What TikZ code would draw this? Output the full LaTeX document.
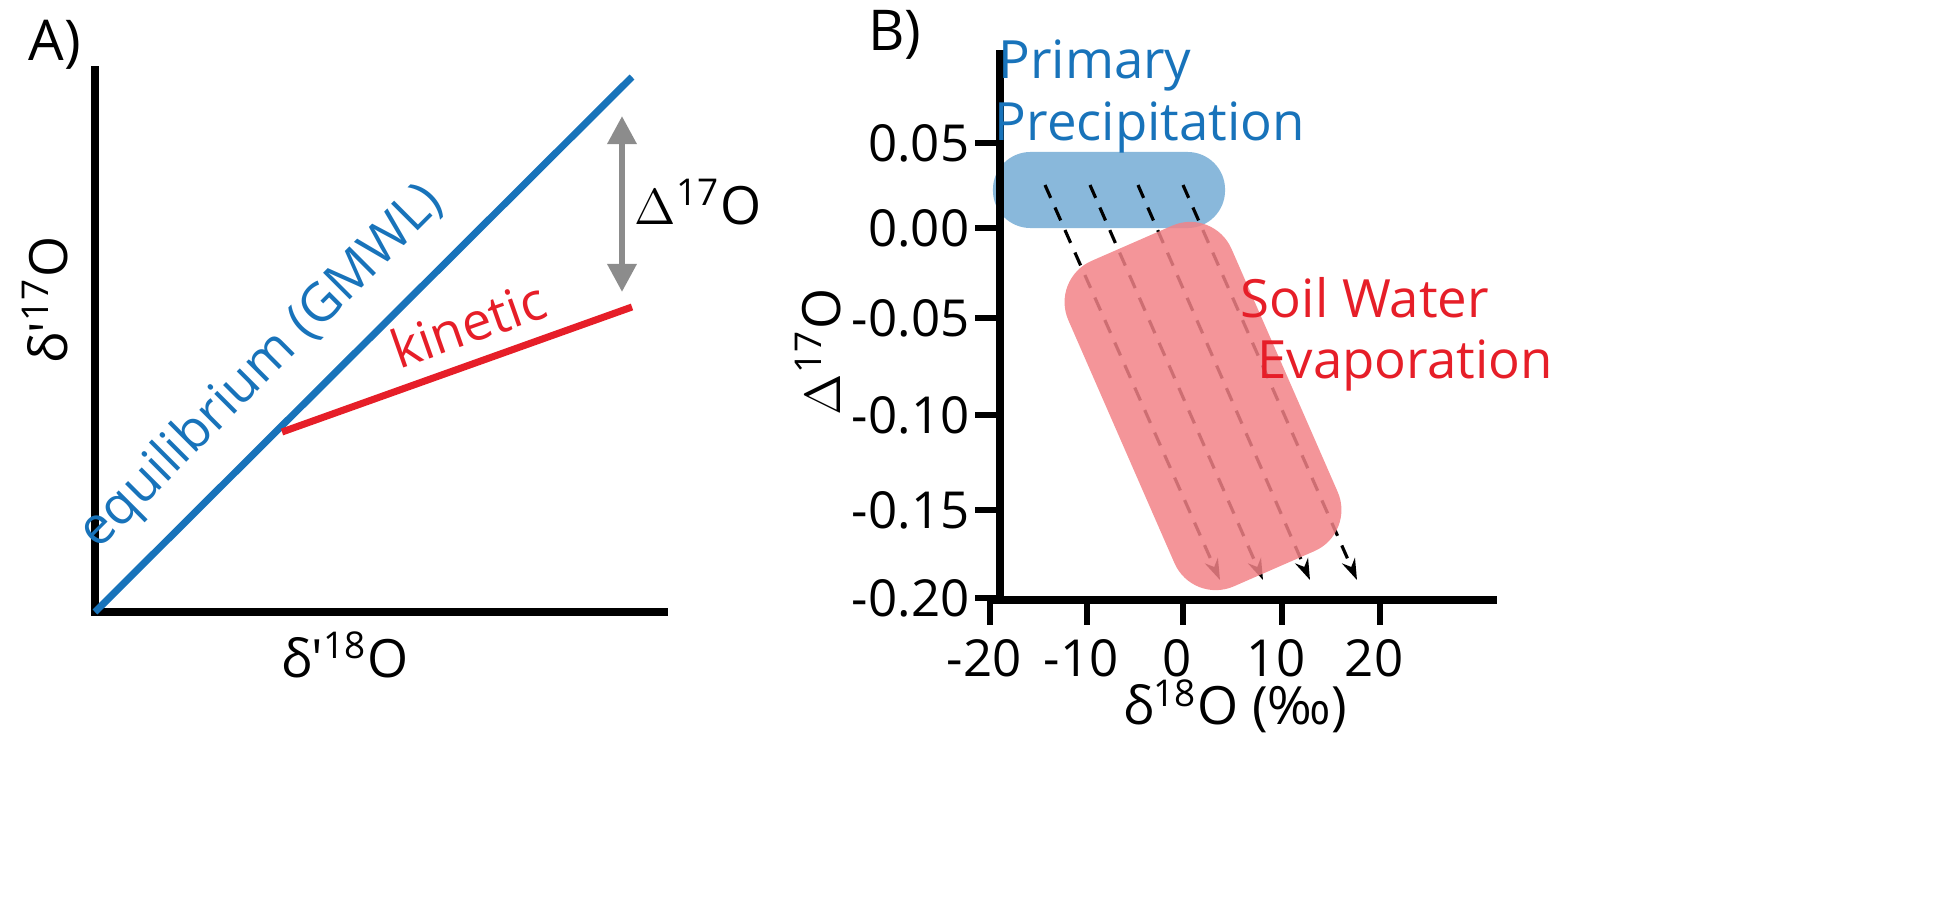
\documentclass[tikz,border=0pt]{standalone}
\usepackage{fontspec}
\setmainfont{Open Sans}
\usetikzlibrary{arrows.meta}
\definecolor{eqblue}{RGB}{24,115,186}
\definecolor{kinred}{RGB}{230,30,40}
\definecolor{pblue}{RGB}{137,184,219}
\definecolor{sred}{RGB}{242,130,135}
\definecolor{agray}{RGB}{140,140,140}
\tikzset{
 ax/.style={line width=2pt,black},
 tk/.style={line width=1.6pt,black},
 lab/.style={font=\fontsize{15}{18}\selectfont,inner sep=0pt},
 tl/.style={font=\fontsize{14.5}{17}\selectfont,inner sep=0pt},
 dar/.style={line width=0.9pt,dash pattern=on 4pt off 3pt,-{Stealth[length=6pt,width=4pt]}},
}
\begin{document}
\begin{tikzpicture}[x=0.01cm,y=-0.01cm]
\useasboundingbox (0,0) rectangle (1950,921);
% Panel A
\node[lab,font=\fontsize{16}{20}\selectfont] (lA) at (55,45) {A)};
\coordinate (oA) at (95,612);
\coordinate (ytA) at (95,66);
\coordinate (xtA) at (668,612);
\draw[ax] (ytA) -- (oA) -- (xtA);
\coordinate (eqE) at (632,77);
\coordinate (kS) at (282,432);
\coordinate (kE) at (632,307);
\draw[eqblue,line width=2pt] (oA) -- (eqE);
\draw[kinred,line width=2pt] (kS) -- (kE);
\coordinate (dT) at (622,116);
\coordinate (dB) at (622,292);
\draw[agray,line width=1.8pt,{Triangle[length=8pt,width=8pt]}-{Triangle[length=8pt,width=8pt]}] (dT) -- (dB);
\node[lab,anchor=west] (dl) at (634,202) {$\Delta$\textsuperscript{17}O};
\node[lab,rotate=90] (yl) at (45,300) {δ′\textsuperscript{17}O};
\node[lab] (xl) at (345,655) {δ′\textsuperscript{18}O};
\node[lab,eqblue,rotate=45] (eql) at (262,368) {equilibrium (GMWL)};
\node[lab,kinred,rotate=19.4] (kl) at (468,324) {kinetic};
% Panel B
\node[lab,font=\fontsize{16}{20}\selectfont] (lB) at (895,35) {B)};
\node[fill=pblue,rounded corners=0.375cm,minimum width=2.32cm,minimum height=0.76cm,inner sep=0pt] (prim) at (1109,190) {};
\foreach \i/\a/\b in {1/1045/1220,2/1090/1263,3/1138/1310,4/1183/1357}{
 \coordinate (s\i) at (\a,185);
 \coordinate (e\i) at (\b,580);
 \draw[dar] (s\i) -- (e\i);
}
\node[fill=sred,opacity=0.85,rounded corners=0.45cm,minimum width=1.78cm,minimum height=3.55cm,rotate=23.6,inner sep=0pt] (soil) at (1203,406) {};
\coordinate (ytB) at (1000,50);
\coordinate (xtB) at (1497,600);
\draw[ax] (ytB) -- (1000,600);
\draw[ax] (990,600) -- (xtB);
\foreach \v/\y in {0.05/143,0.00/228,-0.05/318,-0.10/415,-0.15/510,-0.20/598}{
 \draw[tk] (975,\y) -- (1000,\y);
 \node[tl,anchor=east] at (970,\y) {\v};
}
\foreach \v/\x in {-20/990,-10/1087,0/1183,10/1282,20/1380}{
 \draw[tk] (\x,600) -- (\x,625);
 \node[tl] at (\x-6,658) {\v};
}
\node[lab] (xlB) at (1235,706) {δ\textsuperscript{18}O (‰)};
\node[lab,rotate=90] (ylB) at (818,352) {$\Delta$\textsuperscript{17}O};
\node[lab,eqblue] (pp1) at (1095,65) {Primary};
\node[lab,eqblue] (pp2) at (1150,127) {Precipitation};
\node[lab,kinred] (sw1) at (1365,298) {Soil Water};
\node[lab,kinred] (sw2) at (1405,365) {Evaporation};
\end{tikzpicture}
\end{document}
